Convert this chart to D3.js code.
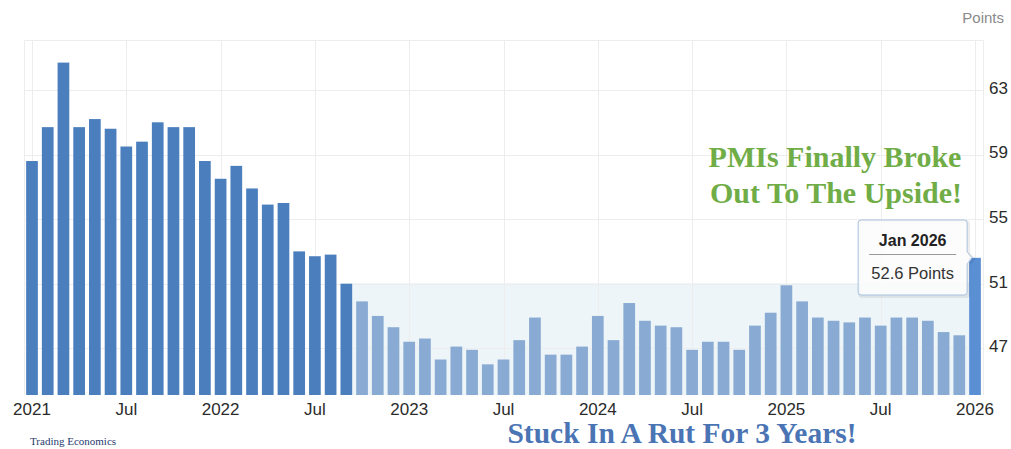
<!DOCTYPE html>
<html>
<head>
<meta charset="utf-8">
<script src="https://cdn.jsdelivr.net/npm/d3@7/dist/d3.min.js"></script>
<style>
  html, body { margin: 0; padding: 0; background: #fff; }
  svg { display: block; }
</style>
</head>
<body>
<div id="chart"></div>
<script>
// Monthly manufacturing PMI readings, Jan 2021 – Jan 2026
const months = [
  "2021-01","2021-02","2021-03","2021-04","2021-05","2021-06","2021-07","2021-08","2021-09","2021-10","2021-11","2021-12",
  "2022-01","2022-02","2022-03","2022-04","2022-05","2022-06","2022-07","2022-08","2022-09","2022-10","2022-11","2022-12",
  "2023-01","2023-02","2023-03","2023-04","2023-05","2023-06","2023-07","2023-08","2023-09","2023-10","2023-11","2023-12",
  "2024-01","2024-02","2024-03","2024-04","2024-05","2024-06","2024-07","2024-08","2024-09","2024-10","2024-11","2024-12",
  "2025-01","2025-02","2025-03","2025-04","2025-05","2025-06","2025-07","2025-08","2025-09","2025-10","2025-11","2025-12",
  "2026-01"
];
const pmi = [
  58.6, 60.7, 64.7, 60.7, 61.2, 60.6, 59.5, 59.8, 61.0, 60.7, 60.7, 58.6,
  57.5, 58.3, 56.9, 55.9, 56.0, 53.0, 52.7, 52.8, 51.0, 49.9, 49.0, 48.3,
  47.4, 47.6, 46.3, 47.1, 46.9, 46.0, 46.3, 47.5, 48.9, 46.6, 46.6, 47.1,
  49.0, 47.5, 49.8, 48.7, 48.4, 48.3, 46.9, 47.4, 47.4, 46.9, 48.4, 49.2,
  50.9, 49.9, 48.9, 48.7, 48.6, 48.9, 48.4, 48.9, 48.9, 48.7, 48.0, 47.8,
  52.6
];

// Axis ticks
const xTickMonths = ["2021-01","2021-07","2022-01","2022-07","2023-01","2023-07","2024-01","2024-07","2025-01","2025-07","2026-01"];
const xTickLabels = ["2021","Jul","2022","Jul","2023","Jul","2024","Jul","2025","Jul","2026"];
const yTicks = [47, 51, 55, 59, 63];

// Stretch of months stuck in a narrow range, and the breakout month
const rutFirst = "2022-10";
const rutLast = "2025-12";
const rutCeiling = 51;
const breakoutMonth = "2026-01";
const breakoutLabel = "Jan 2026";

const W = 1011, H = 449;
const plot = { left: 24, right: 983, top: 40, bottom: 395 };

const svg = d3.select("#chart").append("svg")
  .attr("width", W).attr("height", H)
  .attr("viewBox", `0 0 ${W} ${H}`);

svg.append("rect").attr("width", W).attr("height", H).attr("fill", "#fff");

const x = d3.scaleBand()
  .domain(months)
  .range([plot.left + 0.14, plot.right - 0.14])
  .paddingInner(0.255)
  .paddingOuter(0.1275);

const y = d3.scaleLinear()
  .domain([44.1, 66.1])
  .range([plot.bottom, plot.top]);

const bw = x.bandwidth();
const cx = m => x(m) + bw / 2;

// Shaded band marking the flat stretch
const iFirst = months.indexOf(rutFirst);
const iLast = months.indexOf(rutLast);
const rutX0 = x(months[iFirst - 1]) + bw;
const rutX1 = x(months[iLast + 1]);
svg.append("rect")
  .attr("x", rutX0)
  .attr("y", y(rutCeiling))
  .attr("width", rutX1 - rutX0)
  .attr("height", y.range()[0] - y(rutCeiling))
  .attr("fill", "#edf5f8");
svg.append("line")
  .attr("x1", rutX0).attr("x2", rutX1)
  .attr("y1", y(rutCeiling) + 0.5).attr("y2", y(rutCeiling) + 0.5)
  .attr("stroke", "#d9eaf0").attr("stroke-width", 1);

// Grid
const grid = svg.append("g").attr("stroke", "#ededed").attr("stroke-width", 1).attr("fill", "none");
grid.selectAll("line.h").data(yTicks).join("line")
  .attr("class", "h")
  .attr("x1", plot.left).attr("x2", plot.right)
  .attr("y1", d => Math.round(y(d)) + 0.5).attr("y2", d => Math.round(y(d)) + 0.5);
grid.selectAll("line.v").data(xTickMonths).join("line")
  .attr("class", "v")
  .attr("x1", d => Math.round(cx(d)) + 0.5).attr("x2", d => Math.round(cx(d)) + 0.5)
  .attr("y1", plot.top).attr("y2", plot.bottom);
// frame (top, left, right)
grid.append("path")
  .attr("d", `M${plot.left + 0.5},${plot.bottom} V${plot.top + 0.5} H${plot.right + 0.5} V${plot.bottom}`);

// Bars
const colorFor = (m, i) => {
  if (m === breakoutMonth) return "#5a8fd4";
  if (i >= iFirst) return "#89abd3";
  return "#4b7ebd";
};
svg.append("g").selectAll("rect").data(months).join("rect")
  .attr("x", d => x(d))
  .attr("width", bw)
  .attr("y", (d, i) => y(pmi[i]))
  .attr("height", (d, i) => y.range()[0] - y(pmi[i]))
  .attr("fill", (d, i) => colorFor(d, i));

// X axis labels
const xAxis = d3.axisBottom(x)
  .tickValues(xTickMonths)
  .tickFormat(d => xTickLabels[xTickMonths.indexOf(d)])
  .tickSize(0)
  .tickPadding(0);
const gx = svg.append("g")
  .attr("transform", `translate(0,${plot.bottom})`)
  .call(xAxis);
gx.select(".domain").remove();
gx.selectAll("text")
  .attr("y", 20)
  .attr("dy", 0)
  .attr("fill", "#2b2b2b")
  .style("font-family", "'Liberation Sans', Arial, sans-serif")
  .style("font-size", "17px");

// Y axis labels (right side)
const yAxis = d3.axisRight(y)
  .tickValues(yTicks)
  .tickFormat(d3.format("d"))
  .tickSize(0)
  .tickPadding(0);
const gy = svg.append("g")
  .attr("transform", `translate(${plot.right + 6},0)`)
  .call(yAxis);
gy.select(".domain").remove();
gy.selectAll("text")
  .attr("dy", "0.2em")
  .attr("fill", "#2b2b2b")
  .style("font-family", "'Liberation Sans', Arial, sans-serif")
  .style("font-size", "17px");

// Unit label
svg.append("text")
  .attr("x", 1004).attr("y", 22.5)
  .attr("text-anchor", "end")
  .attr("fill", "#8a8a8a")
  .style("font-family", "'Liberation Sans', Arial, sans-serif")
  .style("font-size", "15px")
  .text("Points");

// Tooltip on the breakout bar
const iBreak = months.indexOf(breakoutMonth);
const tipX = x(breakoutMonth) + 3;
const tipY = y(pmi[iBreak]);
const boxR = x(breakoutMonth) - 2, boxL = boxR - 109;
const boxT = 220, boxB = 295, r = 3;
const tipPath = [
  `M${boxL + r},${boxT}`,
  `H${boxR - r}`, `Q${boxR},${boxT} ${boxR},${boxT + r}`,
  `V${tipY - 6}`, `L${tipX},${tipY}`, `L${boxR},${tipY + 6}`,
  `V${boxB - r}`, `Q${boxR},${boxB} ${boxR - r},${boxB}`,
  `H${boxL + r}`, `Q${boxL},${boxB} ${boxL},${boxB - r}`,
  `V${boxT + r}`, `Q${boxL},${boxT} ${boxL + r},${boxT}`, "Z"
].join(" ");
const tip = svg.append("g");
tip.append("path").attr("d", tipPath)
  .attr("transform", "translate(1.5,1.5)")
  .attr("fill", "none").attr("stroke", "rgba(0,0,0,0.07)").attr("stroke-width", 3);
tip.append("path").attr("d", tipPath)
  .attr("fill", "rgba(251,251,251,0.85)")
  .attr("stroke", "#a9c1de").attr("stroke-width", 1);
const tipCx = (boxL + boxR) / 2;
tip.append("text")
  .attr("x", tipCx).attr("y", 246)
  .attr("text-anchor", "middle")
  .attr("fill", "#222")
  .style("font-family", "'Liberation Sans', Arial, sans-serif")
  .style("font-size", "16px").style("font-weight", "bold")
  .text(breakoutLabel);
tip.append("line")
  .attr("x1", boxL + 11).attr("x2", boxR - 11)
  .attr("y1", 254.5).attr("y2", 254.5)
  .attr("stroke", "#9a9a9a").attr("stroke-width", 1);
tip.append("text")
  .attr("x", tipCx).attr("y", 279)
  .attr("text-anchor", "middle")
  .attr("fill", "#333")
  .style("font-family", "'Liberation Sans', Arial, sans-serif")
  .style("font-size", "16.5px")
  .text(`${pmi[iBreak]} Points`);

// Commentary
const serif = "'Liberation Serif', 'Times New Roman', serif";
const green = svg.append("text")
  .attr("text-anchor", "middle")
  .attr("fill", "#70ad47")
  .style("font-family", serif)
  .style("font-size", "30px").style("font-weight", "bold");
green.append("tspan").attr("x", 835).attr("y", 167).text("PMIs Finally Broke");
green.append("tspan").attr("x", 836).attr("y", 203).text("Out To The Upside!");

svg.append("text")
  .attr("x", 682).attr("y", 443)
  .attr("text-anchor", "middle")
  .attr("fill", "#4a74b4")
  .style("font-family", serif)
  .style("font-size", "29.5px").style("font-weight", "bold")
  .text("Stuck In A Rut For 3 Years!");

// Source credit
svg.append("text")
  .attr("x", 30).attr("y", 445)
  .attr("fill", "#1f3a6e")
  .style("font-family", serif)
  .style("font-size", "11px")
  .text("Trading Economics");
</script>
</body>
</html>
